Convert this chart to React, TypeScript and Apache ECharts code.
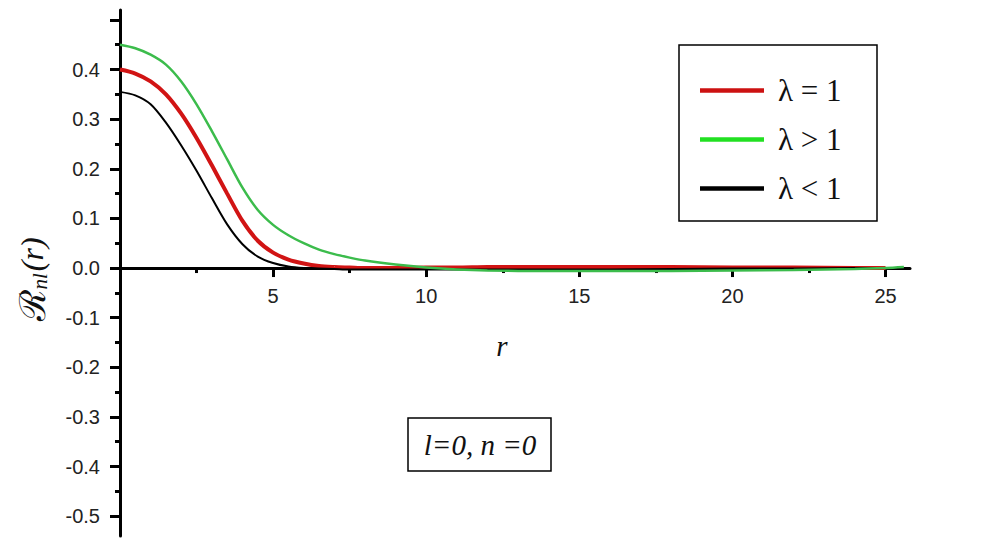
import React, { useEffect, useRef } from "react";
import * as echarts from "echarts";

// ---- data ----
const R_VALUES = [0, 0.5, 1, 1.5, 2, 2.5, 3, 3.5, 4, 4.5, 5, 5.5, 6, 6.5, 7, 7.5, 8, 9, 10, 11, 12, 14, 16, 18, 20, 22, 24, 25, 25.6];
const LAMBDA_EQ_1 = [0.4, 0.392, 0.376, 0.35, 0.311, 0.262, 0.207, 0.15, 0.095, 0.055, 0.031, 0.017, 0.009, 0.004, 0.002, 0.001, 0.0, 0.0, 0.001, 0.001, 0.002, 0.002, 0.002, 0.002, 0.001, 0.001, 0.0, 0.0, null];
const LAMBDA_GT_1 = [0.45, 0.443, 0.43, 0.41, 0.376, 0.33, 0.276, 0.219, 0.162, 0.117, 0.087, 0.066, 0.05, 0.037, 0.028, 0.021, 0.015, 0.007, 0.001, -0.003, -0.005, -0.006, -0.006, -0.006, -0.005, -0.004, -0.002, 0.0, 0.002];
const LAMBDA_LT_1 = [0.355, 0.348, 0.33, 0.293, 0.247, 0.196, 0.141, 0.088, 0.048, 0.023, 0.01, 0.003, 0.0, -0.001, -0.002, -0.003, -0.003, -0.003, -0.003, -0.003, -0.003, -0.003, -0.003, -0.002, -0.001, -0.001, 0.0, 0.0, null];
const SERIES_NAMES = ["λ = 1", "λ > 1", "λ < 1"];

const X_MAJOR_TICKS = [5, 10, 15, 20, 25];
const X_MINOR_TICKS = [2.5, 7.5, 12.5, 17.5, 22.5];
const Y_MAJOR_TICKS = [-0.5, -0.4, -0.3, -0.2, -0.1, 0, 0.1, 0.2, 0.3, 0.4, 0.5];
const Y_LABELS = [-0.5, -0.4, -0.3, -0.2, -0.1, 0, 0.1, 0.2, 0.3, 0.4];
const Y_MINOR_TICKS = [-0.45, -0.35, -0.25, -0.15, -0.05, 0.05, 0.15, 0.25, 0.35, 0.45];

const X_MIN = 0;
const X_MAX = 25.8;
const Y_MIN = -0.54;
const Y_MAX = 0.52;

const pairs = (ys: (number | null)[]) => R_VALUES.map((r, i) => [r, ys[i]]);

export default function App() {
  const ref = useRef<HTMLDivElement>(null);

  useEffect(() => {
    if (!ref.current) return;
    const chart = echarts.init(ref.current, null, { renderer: "svg" });

    const gridTop = 10;
    const gridHeight = 526;
    const zeroY = gridTop + (gridHeight * Y_MAX) / (Y_MAX - Y_MIN);
    const xAxisOffset = zeroY - (gridTop + gridHeight);

    const labelFont = { fontFamily: "Liberation Sans, Arial, sans-serif", fontSize: 20, color: "#222" };
    const serif = "Liberation Serif, 'Times New Roman', serif";

    chart.setOption({
      animation: false,
      backgroundColor: "#fff",
      grid: { left: 120, width: 790, top: gridTop, height: gridHeight, containLabel: false, outerBoundsMode: "none" },
      xAxis: [
        {
          type: "value",
          min: X_MIN,
          max: X_MAX,
          position: "bottom",
          offset: xAxisOffset,
          axisLine: { show: true, onZero: false, lineStyle: { color: "#000", width: 3 } },
          axisTick: { show: true, inside: false, length: 9, customValues: X_MAJOR_TICKS, lineStyle: { color: "#000", width: 3 } },
          axisLabel: { show: true, customValues: X_MAJOR_TICKS, margin: 18, ...labelFont },
          splitLine: { show: false },
        },
        {
          type: "value",
          min: X_MIN,
          max: X_MAX,
          position: "bottom",
          offset: xAxisOffset,
          axisLine: { show: false, onZero: false },
          axisTick: { show: true, inside: false, length: 5, customValues: X_MINOR_TICKS, lineStyle: { color: "#000", width: 3 } },
          axisLabel: { show: false },
          splitLine: { show: false },
        },
      ],
      yAxis: [
        {
          type: "value",
          min: Y_MIN,
          max: Y_MAX,
          position: "left",
          axisLine: { show: true, onZero: false, lineStyle: { color: "#000", width: 3 } },
          axisTick: { show: true, inside: false, length: 10, customValues: Y_MAJOR_TICKS, lineStyle: { color: "#000", width: 3 } },
          axisLabel: {
            show: true,
            customValues: Y_LABELS,
            margin: 20,
            formatter: (v: number) => v.toFixed(1),
            ...labelFont,
          },
          splitLine: { show: false },
        },
        {
          type: "value",
          min: Y_MIN,
          max: Y_MAX,
          position: "left",
          axisLine: { show: false, onZero: false },
          axisTick: { show: true, inside: false, length: 5, customValues: Y_MINOR_TICKS, lineStyle: { color: "#000", width: 3 } },
          axisLabel: { show: false },
          splitLine: { show: false },
        },
      ],
      legend: {
        orient: "vertical",
        left: 700,
        top: 75,
        padding: 0,
        icon: "rect",
        itemWidth: 64,
        itemHeight: 4.5,
        itemGap: 18,
        selectedMode: false,
        data: [
          { name: SERIES_NAMES[0], itemStyle: { color: "#cc1111" } },
          { name: SERIES_NAMES[1], itemStyle: { color: "#22e022" } },
          { name: SERIES_NAMES[2], itemStyle: { color: "#000" } },
        ],
        textStyle: { fontFamily: serif, fontSize: 31, lineHeight: 30, color: "#111", padding: [0, 0, 0, 9] },
      },
      series: [
        {
          name: SERIES_NAMES[0],
          type: "line",
          data: pairs(LAMBDA_EQ_1),
          symbol: "none",
          smooth: 0.3,
          lineStyle: { color: "#d11414", width: 4 },
          itemStyle: { color: "#d11414" },
          z: 3,
        },
        {
          name: SERIES_NAMES[2],
          type: "line",
          data: pairs(LAMBDA_LT_1),
          symbol: "none",
          smooth: 0.3,
          lineStyle: { color: "#000", width: 2 },
          itemStyle: { color: "#000" },
          z: 4,
        },
        {
          name: SERIES_NAMES[1],
          type: "line",
          data: pairs(LAMBDA_GT_1),
          symbol: "none",
          smooth: 0.3,
          lineStyle: { color: "#3cbc4c", width: 2.5 },
          itemStyle: { color: "#3cbc4c" },
          z: 5,
        },
      ],
      graphic: [
        {
          type: "rect",
          shape: { x: 679, y: 45, width: 198, height: 176 },
          style: { fill: "none", stroke: "#000", lineWidth: 1.5 },
          z: 10,
        },
        {
          type: "rect",
          shape: { x: 408, y: 418, width: 143, height: 53 },
          style: { fill: "none", stroke: "#000", lineWidth: 1.5 },
          z: 10,
        },
        {
          type: "text",
          x: 480,
          y: 445,
          style: {
            text: "l=0, n =0",
            fontFamily: serif,
            fontStyle: "italic",
            fontSize: 29,
            fill: "#111",
            align: "center",
            verticalAlign: "middle",
          },
          z: 10,
        },
        {
          type: "text",
          x: 502,
          y: 346,
          style: {
            text: "r",
            fontFamily: serif,
            fontStyle: "italic",
            fontSize: 29,
            fill: "#111",
            align: "center",
            verticalAlign: "middle",
          },
          z: 10,
        },
        {
          type: "text",
          x: 32,
          y: 279,
          rotation: Math.PI / 2,
          style: {
            text: "{R|ℛ}{sub|nl}{p|(r)}",
            align: "center",
            verticalAlign: "middle",
            fill: "#111",
            rich: {
              R: { fontFamily: "DejaVu Serif, serif", fontSize: 36, fill: "#111" },
              sub: { fontFamily: serif, fontStyle: "italic", fontSize: 21, fill: "#111", verticalAlign: "bottom", padding: [14, 2, 0, 0] },
              p: { fontFamily: serif, fontStyle: "italic", fontSize: 32, fill: "#111" },
            },
          },
          z: 10,
        },
      ],
    });

    return () => chart.dispose();
  }, []);

  return <div ref={ref} style={{ position: "fixed", left: 0, top: 0, width: 984, height: 553 }} />;
}
